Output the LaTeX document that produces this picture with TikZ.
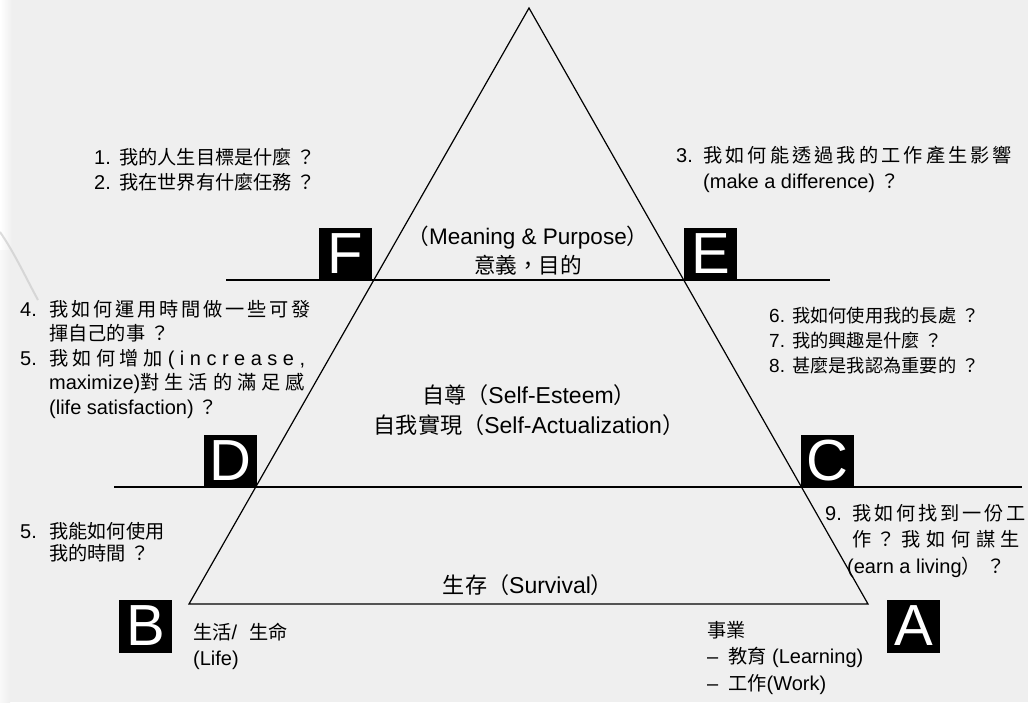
\documentclass[tikz,border=0pt]{standalone}
\usepackage{fontspec}
\setmainfont{Liberation Sans}
\newfontfamily\cjk{Noto Sans CJK TC}[Scale=0.96]
\definecolor{bg}{RGB}{239,239,239}
\newcommand\zh[1]{{\cjk #1}}
\newcommand\spr[2]{\makebox[#1][s]{#2}}
\newcommand\num[2]{\makebox[#1][l]{#2}}
\newcommand\qm{\hspace{5pt}\zh{？}}
\begin{document}
\begin{tikzpicture}[x=1pt,y=-1pt,
  txt/.style={inner sep=0pt, align=left, anchor=base west},
  ctxt/.style={inner sep=0pt, align=center, anchor=base},
  letterbox/.style={fill=black, text=white, inner sep=0pt, minimum size=53pt, font=\fontsize{58}{58}\selectfont},
  ln/.style={line width=1.2pt, black}]
\fill[bg] (0,0) rectangle (1028,702);
\useasboundingbox (0,0) rectangle (1028,702);
% left background swoosh
\shade[left color=white, right color=bg] (0,0) rectangle (12,250);
\shade[left color=white!60!bg, right color=bg] (0,250) rectangle (10,702);
\draw[gray!45, line width=2pt, opacity=0.6] (0,232) .. controls (14,252) and (26,278) .. (38,300);
% pyramid
\coordinate (apex) at (529,8);
\coordinate (bl) at (189,604);
\coordinate (br) at (868,604);
\draw[ln, line join=miter] (bl) -- (apex) -- (br) -- cycle;
\coordinate (t1) at (226,280); \coordinate (t2) at (830,280);
\coordinate (m1) at (114,487); \coordinate (m2) at (1022,487);
\draw[ln] (t1) -- (t2);
\draw[ln] (m1) -- (m2);
% letter boxes
\node[letterbox] (F) at (345.5,254) {F};
\node[letterbox] (E) at (710.5,254) {E};
\node[letterbox] (D) at (230.5,461) {D};
\node[letterbox] (C) at (827.5,461) {C};
\node[letterbox] (B) at (145.5,626) {B};
\node[letterbox] (A) at (913.5,626) {A};
% questions (anchor = baseline of the last line)
\node[txt, font=\fontsize{20}{25.5}\selectfont] (q12) at (94,189.5)
  {\num{25pt}{1.}\zh{我的人生目標是什麼}\qm\\\num{25pt}{2.}\zh{我在世界有什麼任務}\qm};
\node[txt, font=\fontsize{20}{26}\selectfont] (q3) at (676,188.7)
  {\num{27pt}{3.}\spr{309pt}{\zh{我 如 何 能 透 過 我 的 工 作 產 生 影 響}}\\\hspace*{27pt}(make a difference)\qm};
\node[txt, font=\fontsize{20}{24.5}\selectfont] (q45) at (20,414)
  {\num{29pt}{4.}\spr{254pt}{\zh{我 如 何 運 用 時 間 做 一 些 可 發}}\\
   \hspace*{29pt}\zh{揮自己的事}\qm\\
   \num{29pt}{5.}\spr{256pt}{\zh{我 如 何 增 加} ( i n c r e a s e ,}\\
   \hspace*{29pt}\spr{256pt}{maximize)\zh{對 生 活 的 滿 足 感}}\\
   \hspace*{29pt}(life satisfaction)\qm};
\node[txt, font=\fontsize{19}{25}\selectfont] (q678) at (769,372)
  {\num{23pt}{6.}\zh{我如何使用我的長處}\qm\\\num{23pt}{7.}\zh{我的興趣是什麼}\qm\\\num{23pt}{8.}\zh{甚麼是我認為重要的}\qm};
\node[txt, font=\fontsize{20}{22}\selectfont] (q5b) at (20,560)
  {\num{29pt}{5.}\zh{我能如何使用}\\\hspace*{29pt}\zh{我的時間}\qm};
\node[txt, font=\fontsize{20}{26.5}\selectfont] (q9) at (825,573)
  {\num{27pt}{9.}\spr{168pt}{\zh{我 如 何 找 到 一 份 工}}\\
   \hspace*{27pt}\spr{168pt}{\zh{作 ？ 我 如 何 謀 生}}\\
   \hspace*{22pt}(earn a living\zh{）} \zh{？}};
% bottom labels
\node[txt, font=\fontsize{20}{26}\selectfont] (life) at (193,665)
  {\zh{生活}/\hspace{12pt}\zh{生命}\\(Life)};
\node[txt, font=\fontsize{20}{26.5}\selectfont] (career) at (707,690)
  {\zh{事業}\\\num{21pt}{–}\zh{教育} (Learning)\\\num{21pt}{–}\zh{工作}(Work)};
% level labels
\node[ctxt, font=\fontsize{22.5}{29}\selectfont] (meaning) at (528,273)
  {\zh{（}Meaning \& Purpose\zh{）}\\\zh{意義，目的}};
\node[ctxt, font=\fontsize{23}{30}\selectfont] (esteem) at (529,433)
  {\zh{自尊（}Self-Esteem\zh{）}\\\zh{自我實現（}Self-Actualization\zh{）}};
\node[ctxt, font=\fontsize{23}{30}\selectfont] (survival) at (528,593)
  {\zh{生存（}Survival\zh{）}};
\end{tikzpicture}
\end{document}
